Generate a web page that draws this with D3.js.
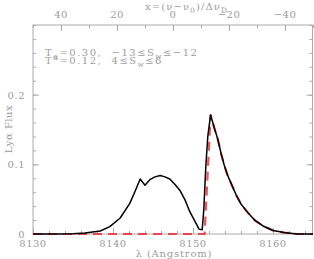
<!DOCTYPE html>
<html>
<head>
<meta charset="utf-8">
<script src="https://cdn.jsdelivr.net/npm/d3@7"></script>
<style>
  body { margin: 0; background: #fff; }
  text { font-family: "DejaVu Serif", "Liberation Serif", serif; fill: #9c9c9c; letter-spacing: 0.5px; }
</style>
</head>
<body>
<div id="chart"></div>
<script>
const width = 314;
const height = 259;
const margin = { top: 25, right: 1, bottom: 25, left: 33 };

// observed spectrum (black)
const lambdaBlack = [8130, 8133, 8135, 8136.5, 8138.4, 8139.6, 8140.9, 8142.1, 8142.75, 8143.4,
  8144.0, 8144.6, 8145.25, 8145.9, 8146.5, 8147.1, 8147.75, 8148.4, 8149.0, 8149.6,
  8150.25, 8150.75, 8151.15, 8151.35, 8151.6, 8151.85, 8152.2, 8152.67, 8153.1, 8153.5,
  8153.9, 8154.3, 8154.75, 8155.4, 8156.0, 8156.9, 8157.7, 8158.75, 8160.0, 8161.4,
  8163, 8165];
const fluxBlack = [0, 0, 0.0005, 0.0015, 0.0043, 0.0105, 0.023, 0.044, 0.061, 0.079,
  0.070, 0.078, 0.082, 0.084, 0.082, 0.079, 0.071, 0.062, 0.049, 0.032,
  0.018, 0.007, 0.006, 0.035, 0.097, 0.140, 0.171, 0.152, 0.136, 0.116,
  0.099, 0.085, 0.073, 0.056, 0.043, 0.030, 0.020, 0.0115, 0.005, 0.002,
  0, 0];

// red-side component (red dashed)
const lambdaRed = [8130, 8151.45, 8152.2, 8152.67, 8153.1, 8153.5, 8153.9, 8154.3, 8154.75, 8155.4,
  8156.0, 8156.9, 8157.7, 8158.75, 8160.0, 8161.4, 8163, 8165];
const fluxRed = [0, 0, 0.171, 0.152, 0.136, 0.116, 0.099, 0.085, 0.073, 0.056,
  0.043, 0.030, 0.020, 0.0115, 0.005, 0.002, 0, 0];

const xTicks = [8130, 8140, 8150, 8160];
const yTicks = [0, 0.1, 0.2];
const topTicks = [40, 20, 0, -20, -40];

const svg = d3.select("#chart")
  .append("svg")
  .attr("width", width)
  .attr("height", height);

const x = d3.scaleLinear()
  .domain([8130, 8165])
  .range([margin.left, width - margin.right]);

const y = d3.scaleLinear()
  .domain([0, 0.3])
  .range([height - margin.bottom, margin.top]);

const xTop = d3.scaleLinear()
  .domain([50, -50])
  .range([margin.left, width - margin.right]);

const axisColor = "#ababab";

// frame
svg.append("rect")
  .attr("x", margin.left)
  .attr("y", margin.top)
  .attr("width", width - margin.left - margin.right - 0.5)
  .attr("height", height - margin.top - margin.bottom)
  .attr("fill", "none")
  .attr("stroke", axisColor)
  .attr("stroke-width", 1);

function styleAxis(g) {
  g.select(".domain").remove();
  g.selectAll("line").attr("stroke", axisColor);
  g.selectAll("text").remove();
}

const xMinor = d3.range(8130, 8165.1, 2);
const yMinor = d3.range(0, 0.301, 0.02);
const topMinor = d3.range(-50, 50.1, 10);

// inward ticks on all four sides
svg.append("g")
  .attr("transform", `translate(0,${height - margin.bottom})`)
  .call(d3.axisTop(x).tickValues(xMinor).tickSize(3))
  .call(styleAxis);
svg.append("g")
  .attr("transform", `translate(0,${height - margin.bottom})`)
  .call(d3.axisTop(x).tickValues(xTicks).tickSize(6))
  .call(styleAxis);

svg.append("g")
  .attr("transform", `translate(0,${margin.top})`)
  .call(d3.axisBottom(xTop).tickValues(topMinor).tickSize(3))
  .call(styleAxis);
svg.append("g")
  .attr("transform", `translate(0,${margin.top})`)
  .call(d3.axisBottom(xTop).tickValues(topTicks).tickSize(6))
  .call(styleAxis);

svg.append("g")
  .attr("transform", `translate(${margin.left},0)`)
  .call(d3.axisRight(y).tickValues(yMinor).tickSize(3))
  .call(styleAxis);
svg.append("g")
  .attr("transform", `translate(${margin.left},0)`)
  .call(d3.axisRight(y).tickValues(yTicks).tickSize(6))
  .call(styleAxis);

svg.append("g")
  .attr("transform", `translate(${width - margin.right - 0.5},0)`)
  .call(d3.axisLeft(y).tickValues(yMinor).tickSize(3))
  .call(styleAxis);
svg.append("g")
  .attr("transform", `translate(${width - margin.right - 0.5},0)`)
  .call(d3.axisLeft(y).tickValues(yTicks).tickSize(6))
  .call(styleAxis);

// tick labels
svg.append("g").selectAll("text")
  .data(xTicks)
  .join("text")
  .attr("x", d => x(d))
  .attr("y", height - margin.bottom + 13)
  .attr("text-anchor", "middle")
  .attr("font-size", 10)
  .text(d => d);

svg.append("g").selectAll("text")
  .data(yTicks)
  .join("text")
  .attr("x", margin.left - 8)
  .attr("y", d => y(d) + 4)
  .attr("text-anchor", "end")
  .attr("font-size", 10)
  .text(d => d === 0 ? "0" : d.toFixed(1));

svg.append("g").selectAll("text")
  .data(topTicks)
  .join("text")
  .attr("x", d => xTop(d))
  .attr("y", margin.top - 7)
  .attr("text-anchor", "middle")
  .attr("font-size", 10)
  .text(d => d < 0 ? "\u2212" + Math.abs(d) : d);

// axis titles
svg.append("text")
  .attr("x", 174)
  .attr("y", height - 2)
  .attr("text-anchor", "middle")
  .attr("font-size", 10)
  .style("letter-spacing", "0.8px")
  .text("\u03bb (Angstrom)");

svg.append("text")
  .attr("transform", `translate(12,129) rotate(-90)`)
  .attr("text-anchor", "middle")
  .attr("font-size", 10)
  .text("Ly\u03b1 Flux");

const topTitle = svg.append("text")
  .attr("x", 145)
  .attr("y", 10)
  .attr("font-size", 10)
  .style("letter-spacing", "1.1px");
topTitle.append("tspan").text("x=(\u03bd\u2212\u03bd");
topTitle.append("tspan").attr("dy", 3).attr("font-size", 7.5).text("0");
topTitle.append("tspan").attr("dy", -3).text(")/\u0394\u03bd");
topTitle.append("tspan").attr("dy", 3).attr("font-size", 7.5).text("D");

// annotations
const ann1 = svg.append("text")
  .attr("x", 45)
  .attr("y", 56)
  .attr("font-size", 10)
  .style("letter-spacing", "1.5px");
ann1.append("tspan").text("T");
ann1.append("tspan").attr("dy", 3).attr("font-size", 7).text("\u03b1");
ann1.append("tspan").attr("dy", -3).text("=0.30,\u00a0 \u221213\u2264S");
ann1.append("tspan").attr("dy", 3).attr("font-size", 7).text("w");
ann1.append("tspan").attr("dy", -3).text("\u2264\u221212");

const ann2 = svg.append("text")
  .attr("x", 45)
  .attr("y", 64)
  .attr("font-size", 10)
  .style("letter-spacing", "1.5px");
ann2.append("tspan").text("T");
ann2.append("tspan").attr("dy", -4).attr("font-size", 7).text("\u03b1");
ann2.append("tspan").attr("dy", 4).text("=0.12,\u00a0 4\u2264S");
ann2.append("tspan").attr("dy", 3).attr("font-size", 7).text("w");
ann2.append("tspan").attr("dy", -3).text("\u22646");

// curves
const line = d3.line()
  .x(d => x(d[0]))
  .y(d => y(d[1]));

const redData = lambdaRed.map((l, i) => [l, fluxRed[i]]);
const blackData = lambdaBlack.map((l, i) => [l, fluxBlack[i]]);

svg.append("path")
  .datum(redData)
  .attr("d", line)
  .attr("fill", "none")
  .attr("stroke", "#e8262c")
  .attr("stroke-opacity", 0.8)
  .attr("stroke-width", 2.2)
  .attr("stroke-dasharray", "9,6");

svg.append("path")
  .datum(blackData)
  .attr("d", line)
  .attr("fill", "none")
  .attr("stroke", "#000")
  .attr("stroke-width", 1.5)
  .attr("stroke-linejoin", "round");
</script>
</body>
</html>
